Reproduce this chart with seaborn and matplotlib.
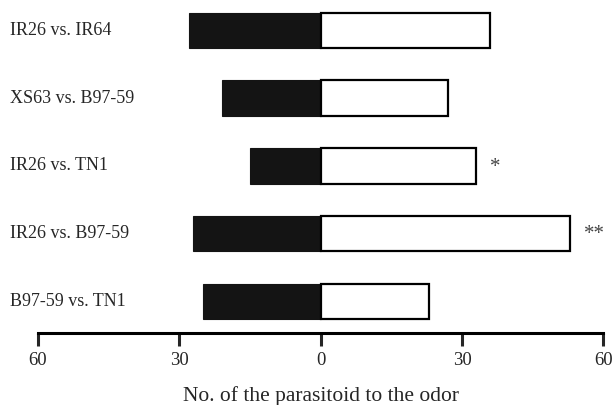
import numpy as np
import pandas as pd
import seaborn as sns
import matplotlib
matplotlib.use("Agg")
import matplotlib.pyplot as plt
import matplotlib.transforms as mtransforms

pairs = ["IR26 vs. IR64", "XS63 vs. B97-59", "IR26 vs. TN1", "IR26 vs. B97-59", "B97-59 vs. TN1"]
left_counts = [28, 21, 15, 27, 25]
right_counts = [36, 27, 33, 53, 23]
stars = ["", "", "*", "**", ""]
tick_vals = [-60, -30, 0, 30, 60]
tick_labels = ["60", "30", "0", "30", "60"]

sns.set_style("white")
plt.rcParams["font.family"] = ["Liberation Serif", "DejaVu Serif"]

df = pd.DataFrame({"pair": pairs,
                   "left": -np.array(left_counts),
                   "right": right_counts})

fig = plt.figure(figsize=(6.15, 4.05), dpi=100)
ax = fig.add_axes([38 / 615, 1 - 333 / 405, (603.3 - 38) / 615, 333 / 405])

sns.barplot(data=df, x="left", y="pair", color="#141414", saturation=1,
            width=0.525, errorbar=None, edgecolor="#141414", linewidth=0.8, ax=ax)
sns.barplot(data=df, x="right", y="pair", color="white", saturation=1,
            width=0.525, errorbar=None, edgecolor="black", linewidth=1.6, ax=ax)

# significance marks
for i, s in enumerate(stars):
    if s:
        ax.annotate(s, xy=(right_counts[i], i), xytext=(10, -1), textcoords="offset points",
                    ha="left", va="center", fontsize=15, color="#444444")

# row labels at the left edge of the figure
trans = mtransforms.blended_transform_factory(fig.transFigure, ax.transData)
for i, p in enumerate(pairs):
    ax.text(9.5 / 615, i, p, transform=trans, ha="left", va="center", fontsize=13)

ax.set_xlim(-60, 60)
ax.set_ylim(4.468, -0.45)
ax.set_yticks([])
ax.set_ylabel("")
ax.set_xticks(tick_vals)
ax.set_xticklabels(tick_labels, fontsize=13.5)
ax.tick_params(axis="x", direction="out", length=9, width=2.2, pad=4.5, bottom=True)
ax.set_xlabel("No. of the parasitoid to the odor", fontsize=15.5, labelpad=12.5)

for side in ["top", "right", "left"]:
    ax.spines[side].set_visible(False)
ax.spines["bottom"].set_linewidth(2.2)
ax.spines["bottom"].set_color("black")

fig.savefig("out.png", dpi=100)
